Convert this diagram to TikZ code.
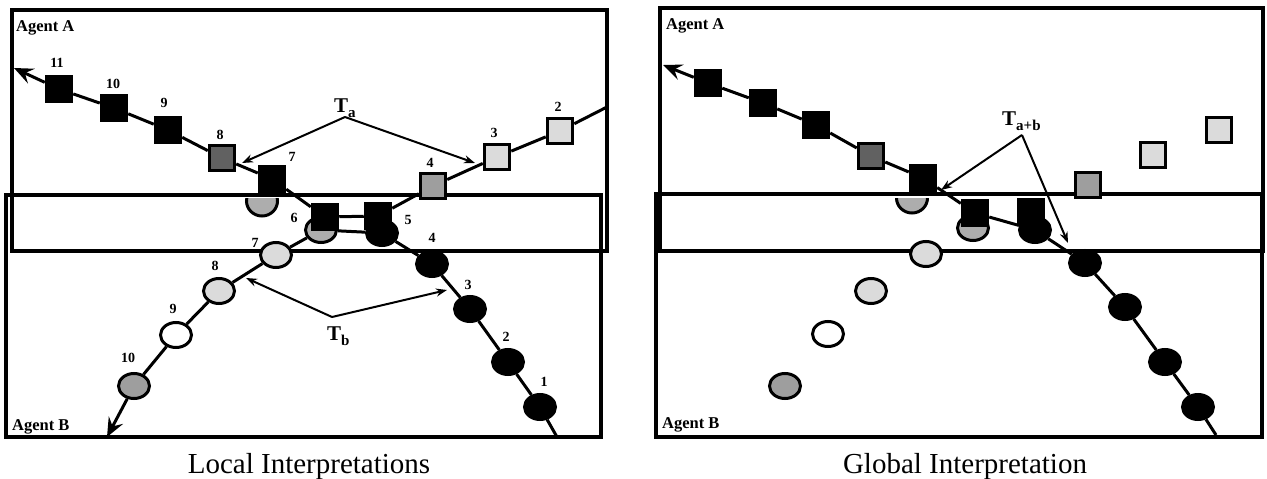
\documentclass[tikz,border=0pt]{standalone}
\usepackage{fontspec}
\setmainfont{Liberation Serif}
\usetikzlibrary{arrows.meta,backgrounds,shapes.geometric}
\definecolor{lightfill}{gray}{0.86}
\definecolor{medfill}{gray}{0.62}
\definecolor{darkfill}{gray}{0.38}
\definecolor{halffill}{gray}{0.68}
\begin{document}
\begin{tikzpicture}[x=1pt,y=-1pt,
  box/.style={draw=black,line width=3.3pt},
  trk/.style={draw=black,line width=3pt},
  sq/.style={rectangle,draw=black,line width=3pt,minimum size=25.5pt,inner sep=0pt},
  sqblk/.style={sq,fill=black},
  sqlt/.style={sq,fill=lightfill},
  sqmd/.style={sq,fill=medfill},
  sqdk/.style={sq,fill=darkfill},
  ci/.style={ellipse,draw=black,line width=3pt,minimum width=31pt,minimum height=25pt,inner sep=0pt},
  ciblk/.style={ci,fill=black},
  cilt/.style={ci,fill=lightfill},
  cimd/.style={ci,fill=medfill},
  ciwh/.style={ci,fill=white},
  cihf/.style={ci,fill=halffill},
  num/.style={font=\bfseries\fontsize{14}{14}\selectfont,inner sep=0pt},
  agent/.style={font=\bfseries\fontsize{16.5}{16.5}\selectfont,inner sep=0pt,anchor=base west},
  captext/.style={font=\fontsize{29}{29}\selectfont,inner sep=0pt,anchor=base},
  tlab/.style={font=\bfseries\fontsize{21}{21}\selectfont,inner sep=0pt,anchor=base west},
  ptr/.style={line width=2pt,-{Stealth[length=11pt,width=8pt]}},
  endarr/.style={trk,-{Stealth[length=19pt,width=16pt,inset=7pt]}}
]
\useasboundingbox (0,0) rectangle (1267,479);

% ================= LEFT PANEL =================
\begin{scope}
  \clip (240,198.5) rectangle (285,230);
  \node[cihf,minimum height=30pt] (Lhalf) at (262,201) {};
\end{scope}
\node[cimd] (Lc10) at (134,386) {};
\node[ciwh] (Lc9) at (176,335) {};
\node[cilt] (Lc8) at (219,291) {};
\node[cilt] (Lc7) at (276,255) {};
\node[cihf] (Lc6) at (321,230) {};
\node[ciblk] (Lc5) at (382,233) {};
\node[ciblk] (Lc4) at (432,264) {};
\node[ciblk] (Lc3) at (470,309) {};
\node[ciblk] (Lc2) at (508,362) {};
\node[ciblk] (Lc1) at (540,407) {};
\node[sqblk] (Ls11) at (59,89) {};
\node[sqblk] (Ls10) at (114,108) {};
\node[sqblk] (Ls9) at (168,130) {};
\node[sqdk] (Ls8) at (222,158) {};
\node[sqblk] (Ls7) at (272,179) {};
\node[sqblk] (Ls6) at (325,217) {};
\node[sqblk] (Ls5) at (378,216) {};
\node[sqmd] (Ls4) at (433,186) {};
\node[sqlt] (Ls3) at (497,157) {};
\node[sqlt] (Ls2) at (560,131) {};

\coordinate (LendA) at (14,68);
\coordinate (LendAr) at (607,107);
\coordinate (LendB) at (107,437);
\coordinate (LendBr) at (557,437);

\node[num] (Ln11) at (57,63) {11};
\node[num] (Ln10) at (113,84) {10};
\node[num] (Ln9) at (164,103) {9};
\node[num] (Ln8) at (220,135) {8};
\node[num] (Ln7) at (292,157) {7};
\node[num] (Ln6) at (294,218) {6};
\node[num] (Ln5) at (408,220) {5};
\node[num] (Ln4a) at (430,163) {4};
\node[num] (Ln3a) at (494,133) {3};
\node[num] (Ln2a) at (558,107) {2};
\node[num] (Lm7) at (255,243) {7};
\node[num] (Lm8) at (215,266) {8};
\node[num] (Lm9) at (173,309) {9};
\node[num] (Lm10) at (128,358) {10};
\node[num] (Lm4) at (432,238) {4};
\node[num] (Lm3) at (468,285) {3};
\node[num] (Lm2) at (506,337) {2};
\node[num] (Lm1) at (544,382) {1};

\node[agent] (LagA) at (16,31) {Agent A};
\node[agent] (LagB) at (12,430) {Agent B};
\node[captext] (Lcap) at (309,473) {Local Interpretations};

\node[tlab] (LTa) at (334,112) {T\raisebox{-5pt}{\fontsize{15}{15}\selectfont a}};
\coordinate (LTaApex) at (345,117);
\coordinate (LTaTip1) at (242,163);
\coordinate (LTaTip2) at (475,163);
\draw[ptr] (LTaApex) -- (LTaTip1);
\draw[ptr] (LTaApex) -- (LTaTip2);
\node[tlab] (LTb) at (327,340) {T\raisebox{-5pt}{\fontsize{15}{15}\selectfont b}};
\coordinate (LTbApex) at (332,317);
\coordinate (LTbTip1) at (246,278);
\coordinate (LTbTip2) at (447,290);
\draw[ptr] (LTbApex) -- (LTbTip1);
\draw[ptr] (LTbApex) -- (LTbTip2);

% ================= RIGHT PANEL =================
\begin{scope}
  \clip (890,198.5) rectangle (935,230);
  \node[cihf,minimum height=30pt] (Rhalf) at (912,198) {};
\end{scope}
\node[cimd] (Rc10) at (785,386) {};
\node[ciwh] (Rc9) at (828,334) {};
\node[cilt] (Rc8) at (871,291) {};
\node[cilt] (Rc7) at (926,254) {};
\node[cihf] (Rc6) at (973,228) {};
\node[ciblk] (Rc5) at (1035,230) {};
\node[ciblk] (Rc4) at (1085,263) {};
\node[ciblk] (Rc3) at (1125,307) {};
\node[ciblk] (Rc2) at (1165,362) {};
\node[ciblk] (Rc1) at (1198,407) {};
\node[sqblk] (Rs11) at (708,83) {};
\node[sqblk] (Rs10) at (763,103) {};
\node[sqblk] (Rs9) at (816,125) {};
\node[sqdk] (Rs8) at (871,156) {};
\node[sqblk] (Rs7) at (923,178) {};
\node[sqblk] (Rs6) at (975,213) {};
\node[sqblk] (Rs5) at (1031,212) {};
\node[sqmd] (Rs4) at (1088,185) {};
\node[sqlt] (Rs3) at (1153,155) {};
\node[sqlt] (Rs2) at (1219,130) {};

\coordinate (RendA) at (663,65);
\coordinate (RendBr) at (1216,435);

\node[agent] (RagA) at (666,29) {Agent A};
\node[agent] (RagB) at (662,428) {Agent B};
\node[captext] (Rcap) at (965,473) {Global Interpretation};

\node[tlab] (RTab) at (1002,125) {T\raisebox{-5pt}{\fontsize{15}{15}\selectfont a+b}};
\coordinate (RTApex) at (1022,135);
\coordinate (RTTip1) at (941,190);
\coordinate (RTTip2) at (1068,243);
\draw[ptr] (RTApex) -- (RTTip1);
\draw[ptr] (RTApex) -- (RTTip2);

% ================= BACKGROUND: boxes and tracks =================
\begin{scope}[on background layer]
  \fill[white] (0,0) rectangle (1267,479);
  \draw[box] (12,10) rectangle (607,251);
  \draw[box] (6,195) rectangle (601,437);
  \draw[box] (660,8) rectangle (1263,251);
  \draw[box] (656,194) rectangle (1262,437);
  \draw[trk] (LendAr) -- (Ls2) -- (Ls3) -- (Ls4) -- (Ls5) -- (Ls6) -- (Ls7) -- (Ls8) -- (Ls9) -- (Ls10) -- (Ls11);
  \draw[endarr] (Ls11) -- (LendA);
  \draw[trk] (LendBr) -- (Lc1) -- (Lc2) -- (Lc3) -- (Lc4) -- (Lc5) -- (Lc6) -- (Lc7) -- (Lc8) -- (Lc9) -- (Lc10);
  \draw[endarr] (Lc10) -- (LendB);
  \draw[trk] (RendBr) -- (Rc1) -- (Rc2) -- (Rc3) -- (Rc4) -- (Rc5) -- (Rs6) -- (Rs7) -- (Rs8) -- (Rs9) -- (Rs10) -- (Rs11);
  \draw[endarr] (Rs11) -- (RendA);
\end{scope}
\end{tikzpicture}
\end{document}
